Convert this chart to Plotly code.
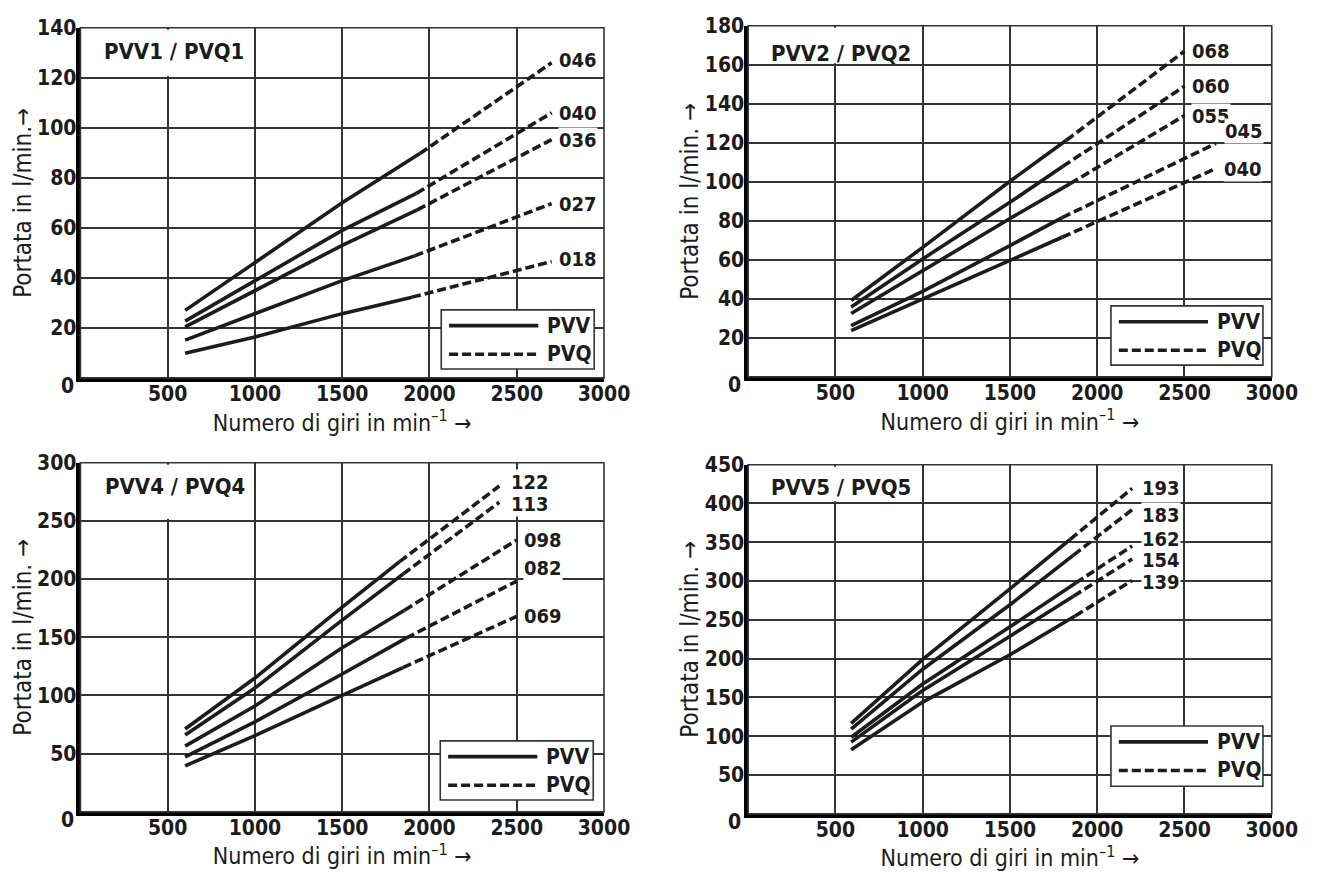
import plotly.graph_objects as go

W, H = 1336, 874

# ---------------- data (speed in min^-1, flow in l/min) ----------------
# PVV1 / PVQ1
p1_sizes = ["046", "040", "036", "027", "018"]
p1_speed = [[600, 1000, 1500, 1945, 2700],
            [600, 1000, 1500, 1925, 2700],
            [600, 1000, 1500, 1930, 2700],
            [600, 1000, 1500, 1915, 2700],
            [600, 1000, 1500, 1900, 2700]]
p1_flow = [[27.0, 46.0, 70.0, 89.7, 126.0],
           [22.7, 38.8, 59.0, 73.8, 106.0],
           [20.4, 34.8, 53.0, 67.2, 95.3],
           [15.1, 25.6, 38.9, 48.8, 69.7],
           [9.9, 16.4, 25.7, 32.3, 46.5]]
p1_pvv_max = [1945, 1925, 1930, 1915, 1900]

# PVV2 / PVQ2
p2_sizes = ["068", "060", "055", "045", "040"]
p2_speed = [[590, 1000, 1500, 1823, 2500],
            [590, 1000, 1500, 1802, 2500],
            [590, 1000, 1500, 1845, 2500],
            [590, 1000, 1500, 1799, 2680],
            [590, 1000, 1500, 1799, 2672]]
p2_flow = [[39.2, 66.4, 100.3, 121.3, 167.0],
           [35.9, 60.5, 89.5, 107.9, 149.0],
           [32.5, 54.6, 81.2, 99.1, 134.0],
           [26.3, 43.9, 67.3, 81.7, 119.7],
           [23.7, 39.7, 59.7, 71.6, 106.5]]
p2_pvv_max = [1823, 1802, 1845, 1799, 1799]

# PVV4 / PVQ4
p3_sizes = ["122", "113", "098", "082", "069"]
p3_speed = [[600, 1000, 1500, 1829, 2400],
            [600, 1000, 1500, 1848, 2400],
            [600, 1000, 1500, 1857, 2500],
            [600, 1000, 1500, 1866, 2500],
            [600, 1000, 1500, 1848, 2500]]
p3_flow = [[71.2, 115.0, 176.0, 215.0, 280.0],
           [66.0, 106.5, 164.8, 204.3, 266.0],
           [56.5, 91.0, 141.0, 173.3, 233.6],
           [47.2, 77.4, 118.5, 149.3, 198.3],
           [39.5, 65.5, 100.0, 124.0, 168.0]]
p3_pvv_max = [1829, 1848, 1857, 1866, 1848]

# PVV5 / PVQ5
p4_sizes = ["193", "183", "162", "154", "139"]
p4_speed = [[590, 1000, 1500, 1845, 2200],
            [590, 1000, 1500, 1864, 2200],
            [590, 1000, 1500, 1877, 2200],
            [590, 1000, 1500, 1864, 2200],
            [590, 1000, 1500, 1873, 2200]]
p4_flow = [[116.5, 199.0, 290.0, 353.8, 419.5],
           [109.3, 186.4, 269.5, 333.5, 392.0],
           [98.7, 167.4, 241.0, 297.5, 345.3],
           [92.4, 159.0, 229.0, 280.5, 328.4],
           [82.6, 144.0, 205.0, 255.0, 300.8]]
p4_pvv_max = [1845, 1864, 1877, 1864, 1873]

titles = ["PVV1 / PVQ1", "PVV2 / PVQ2", "PVV4 / PVQ4", "PVV5 / PVQ5"]
y_max = [140, 180, 300, 450]
y_step = [20, 20, 50, 50]
x_ticks = [500, 1000, 1500, 2000, 2500, 3000]
legend_names = ["PVV", "PVQ"]

# ---------------- styling / layout (pixels) ----------------
FONT = "Liberation Sans Narrow, DejaVu Sans Condensed, Arial Narrow, Liberation Sans, sans-serif"
INK = "#1c1c1c"
GRID = "#333333"

# plot area boxes (left, top, right, bottom) in px
boxes = [(82, 16, 616, 371), (763, 14, 1297, 370), (82, 457, 616, 811), (763, 459, 1297, 813)]
# title white box (l, t, r, b) and title text centre
title_box = [(85, 18, 258, 65), (766, 16, 939, 52), (85, 459, 258, 514), (766, 461, 939, 496)]
title_pos = [(177, 40), (858, 42), (178, 481), (858, 482)]
# legend boxes (l, t, r, b)
leg_box = [(450, 302, 606, 362), (1133, 298, 1288, 358), (449, 739, 605, 799), (1133, 724, 1288, 785)]
# label offsets (xshift, yshift) in px
label_off = [
    [(6, 3), (6, 0), (6, 0), (6, 0), (6, 3)],
    [(7, 0), (7, 0), (7, 0), (8, 12), (8, 0)],
    [(11, 4), (11, -2), (6, 0), (6, 13), (6, 0)],
    [(9, 0), (9, -5), (9, 7), (9, -1), (9, -2)],
]
ytitles = ["Portata in l/min.→", "Portata in l/min. →", "Portata in l/min. →", "Portata in l/min. →"]

panels = [
    (p1_sizes, p1_speed, p1_flow, p1_pvv_max),
    (p2_sizes, p2_speed, p2_flow, p2_pvv_max),
    (p3_sizes, p3_speed, p3_flow, p3_pvv_max),
    (p4_sizes, p4_speed, p4_flow, p4_pvv_max),
]


def px(x):
    return x / W


def py(y):
    return 1 - y / H


fig = go.Figure()
annotations = []
shapes = []
layout = {}

for i, (sizes, speeds, flows, pmax) in enumerate(panels):
    n = "" if i == 0 else str(i + 1)
    xa, ya = "x" + n, "y" + n
    for k, name in enumerate(sizes):
        xs, ys = speeds[k], flows[k]
        sx = [x for x in xs if x <= pmax[k]]
        sy = [y for x, y in zip(xs, ys) if x <= pmax[k]]
        dx = [x for x in xs if x >= pmax[k]]
        dy = [y for x, y in zip(xs, ys) if x >= pmax[k]]
        fig.add_trace(go.Scatter(x=sx, y=sy, mode="lines", xaxis=xa, yaxis=ya,
                                 line=dict(color=INK, width=3.6), showlegend=False,
                                 name="PVV" + name, hoverinfo="x+y"))
        fig.add_trace(go.Scatter(x=dx, y=dy, mode="lines", xaxis=xa, yaxis=ya,
                                 line=dict(color=INK, width=3.6, dash="9px,4px"), showlegend=False,
                                 name="PVQ" + name, hoverinfo="x+y"))
        xs_, ys_ = label_off[i][k]
        annotations.append(dict(x=xs[-1], y=ys[-1], xref=xa, yref=ya, text=name, showarrow=False,
                                xanchor="left", yanchor="middle", xshift=xs_, yshift=ys_,
                                bgcolor="white", borderpad=0,
                                font=dict(family=FONT, size=20, color=INK, weight="bold")))

    L, T, R, B = boxes[i]
    layout["xaxis" + n] = dict(
        domain=[px(L), px(R)], anchor=ya, range=[0, 3000], tickvals=x_ticks,
        showgrid=True, gridcolor=GRID, gridwidth=1.5, zeroline=False,
        showline=True, linecolor="black", linewidth=3.5, ticks="", ticklen=0, ticklabelstandoff=-6,
        tickfont=dict(family=FONT, size=21, color=INK, weight="bold"),
        title=dict(text="Numero di giri in min<sup>–1</sup> →", standoff=0,
                   font=dict(family=FONT, size=23, color=INK)),
        fixedrange=True,
    )
    yt = list(range(y_step[i], y_max[i] + 1, y_step[i]))
    layout["yaxis" + n] = dict(
        domain=[py(B), py(T)], anchor=xa, range=[0, y_max[i]], tickvals=yt,
        showgrid=True, gridcolor=GRID, gridwidth=1.5, zeroline=False,
        showline=True, linecolor="black", linewidth=3.5, ticks="", ticklen=0, ticklabelstandoff=-4,
        tickfont=dict(family=FONT, size=21, color=INK, weight="bold"),
        title=dict(text=ytitles[i], standoff=0, font=dict(family=FONT, size=24, color=INK)),
        fixedrange=True,
    )
    # "0" label at the origin
    annotations.append(dict(x=px(L - 5), y=py(B + 8), xref="paper", yref="paper", text="0",
                            showarrow=False, xanchor="right", yanchor="middle",
                            font=dict(family=FONT, size=21, color=INK, weight="bold")))
    # title box + text
    tl, tt, tr, tb = title_box[i]
    shapes.append(dict(type="rect", xref="paper", yref="paper", x0=px(tl), x1=px(tr), y0=py(tb), y1=py(tt),
                       fillcolor="white", line=dict(width=0), layer="above"))
    annotations.append(dict(x=px(title_pos[i][0]), y=py(title_pos[i][1]), xref="paper", yref="paper",
                            text=titles[i], showarrow=False, xanchor="center", yanchor="middle",
                            font=dict(family=FONT, size=22, color=INK, weight="bold")))
    # frame (top/right thinner)
    shapes.append(dict(type="rect", xref="paper", yref="paper", x0=px(L), x1=px(R), y0=py(B), y1=py(T),
                       line=dict(color=GRID, width=1.6), fillcolor="rgba(0,0,0,0)", layer="above"))
    # legend
    gl, gt, gr, gb = leg_box[i]
    shapes.append(dict(type="rect", xref="paper", yref="paper", x0=px(gl), x1=px(gr), y0=py(gb), y1=py(gt),
                       fillcolor="white", line=dict(color=GRID, width=1.6), layer="above"))
    for j, lname in enumerate(legend_names):
        yy = gt + 16 + 29 * j
        shapes.append(dict(type="line", xref="paper", yref="paper", x0=px(gl + 8), x1=px(gl + 99),
                           y0=py(yy), y1=py(yy), layer="above",
                           line=dict(color=INK, width=3.6, dash="solid" if j == 0 else "9px,4px")))
        annotations.append(dict(x=px(gl + 106), y=py(yy), xref="paper", yref="paper", text=lname,
                                showarrow=False, xanchor="left", yanchor="middle",
                                font=dict(family=FONT, size=21, color=INK, weight="bold")))

fig.update_layout(
    width=W, height=H, margin=dict(l=0, r=0, t=0, b=0),
    paper_bgcolor="white", plot_bgcolor="white",
    showlegend=False, annotations=annotations, shapes=shapes, **layout,
)

fig.write_html("out.html")
